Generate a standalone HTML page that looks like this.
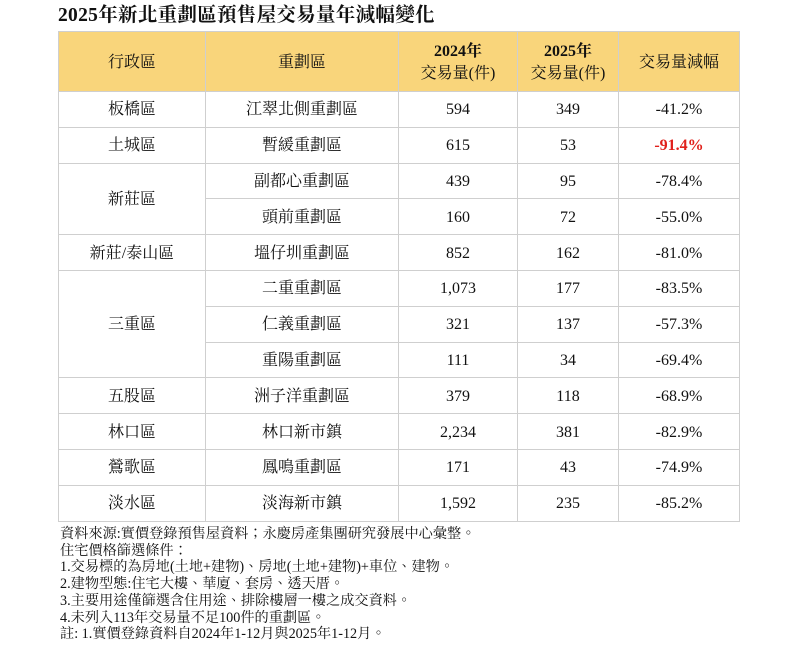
<!DOCTYPE html>
<html><head><meta charset="utf-8"><style>
body{margin:0;width:800px;height:647px;background:#fff;font-family:"Liberation Serif","Noto Serif CJK TC","Noto Serif CJK SC",serif;color:#111;position:relative;overflow:hidden}
.title{position:absolute;left:58px;top:4px;font-size:19.5px;line-height:24px;font-weight:bold;letter-spacing:0.3px}
table{position:absolute;left:58px;top:31px;border-collapse:collapse;table-layout:fixed;width:681px}
td,th{border:1px solid #cfcfcf;text-align:center;vertical-align:middle;font-size:16px;line-height:20px;padding:0;font-weight:normal}
th{background:#f9d57b;height:59px;line-height:22px;padding-top:2px;height:57px}
th b{font-weight:bold}
td{height:32.8px;padding-top:2px}
.red{color:#e0201b;font-weight:bold}
.notes{position:absolute;left:60px;top:526px;font-size:14.2px;line-height:16.7px}
</style></head><body>
<div class="title">2025年新北重劃區預售屋交易量年減幅變化</div>
<table>
<colgroup><col style="width:147px"><col style="width:193px"><col style="width:119px"><col style="width:101px"><col style="width:121px"></colgroup>
<tr><th>行政區</th><th>重劃區</th><th><b>2024年</b><br>交易量(件)</th><th><b>2025年</b><br>交易量(件)</th><th>交易量減幅</th></tr>
<tr><td>板橋區</td><td>江翠北側重劃區</td><td>594</td><td>349</td><td>-41.2%</td></tr>
<tr><td>土城區</td><td>暫緩重劃區</td><td>615</td><td>53</td><td class="red">-91.4%</td></tr>
<tr><td rowspan="2">新莊區</td><td>副都心重劃區</td><td>439</td><td>95</td><td>-78.4%</td></tr>
<tr><td>頭前重劃區</td><td>160</td><td>72</td><td>-55.0%</td></tr>
<tr><td>新莊/泰山區</td><td>塭仔圳重劃區</td><td>852</td><td>162</td><td>-81.0%</td></tr>
<tr><td rowspan="3">三重區</td><td>二重重劃區</td><td>1,073</td><td>177</td><td>-83.5%</td></tr>
<tr><td>仁義重劃區</td><td>321</td><td>137</td><td>-57.3%</td></tr>
<tr><td>重陽重劃區</td><td>111</td><td>34</td><td>-69.4%</td></tr>
<tr><td>五股區</td><td>洲子洋重劃區</td><td>379</td><td>118</td><td>-68.9%</td></tr>
<tr><td>林口區</td><td>林口新市鎮</td><td>2,234</td><td>381</td><td>-82.9%</td></tr>
<tr><td>鶯歌區</td><td>鳳鳴重劃區</td><td>171</td><td>43</td><td>-74.9%</td></tr>
<tr><td>淡水區</td><td>淡海新市鎮</td><td>1,592</td><td>235</td><td>-85.2%</td></tr>
</table>
<div class="notes">資料來源:實價登錄預售屋資料；永慶房產集團研究發展中心彙整。<br>住宅價格篩選條件：<br>1.交易標的為房地(土地+建物)、房地(土地+建物)+車位、建物。<br>2.建物型態:住宅大樓、華廈、套房、透天厝。<br>3.主要用途僅篩選含住用途、排除樓層一樓之成交資料。<br>4.未列入113年交易量不足100件的重劃區。<br>註: 1.實價登錄資料自2024年1-12月與2025年1-12月。</div>
</body></html>
